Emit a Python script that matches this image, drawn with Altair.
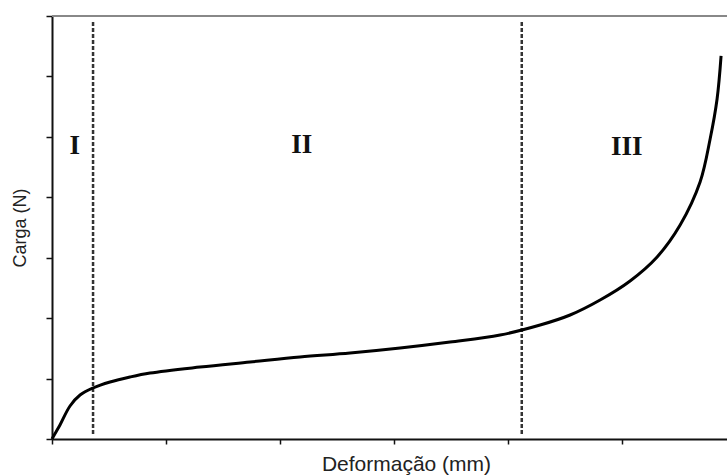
import altair as alt
import pandas as pd

# Curve (Deformação vs Carga) (arbitrary units)
curve_x = [0.0, 0.035, 0.070, 0.158, 0.246, 0.360, 0.509, 0.684, 0.860, 1.298, 1.737,
           2.175, 2.614, 3.053, 3.491, 3.930, 4.281, 4.544, 4.807, 5.070, 5.307,
           5.509, 5.684, 5.772, 5.833, 5.868]
curve_y = [0.0, 0.116, 0.232, 0.546, 0.728, 0.844, 0.943, 1.026, 1.092, 1.191, 1.274,
           1.357, 1.423, 1.506, 1.605, 1.721, 1.886, 2.052, 2.300, 2.615, 3.012,
           3.541, 4.253, 4.965, 5.627, 6.339]

# Region boundaries (dashed lines)
boundary_x = [0.36, 4.12]
boundary_top = 6.9
boundary_bottom = 0.06

# Region labels
region_labels = ["I", "II", "III"]
region_x = [0.2, 2.19, 5.04]
region_y = [4.85, 4.86, 4.83]

x_ticks = [0, 1, 2, 3, 4, 5]
y_ticks = [0, 1, 2, 3, 4, 5, 6, 7]

W, H = 675, 423
x_scale = alt.Scale(domain=[0, 5.92], nice=False, zero=False)
y_scale = alt.Scale(domain=[0, 7], nice=False, zero=False)

curve_df = pd.DataFrame({"x": curve_x, "y": curve_y})
bound_df = pd.DataFrame({"x": boundary_x,
                         "y": [boundary_top] * len(boundary_x),
                         "y2": [boundary_bottom] * len(boundary_x)})
label_df = pd.DataFrame({"label": region_labels, "x": region_x, "y": region_y})

x_axis = alt.Axis(values=x_ticks, labels=False, grid=False, title="Deformação (mm)",
                  titleFont="Liberation Sans", titleFontSize=21, titleFontWeight="normal",
                  titleColor="#222", titleX=354, titleY=31, titleAlign="center",
                  titleBaseline="alphabetic", domainColor="#111", domainWidth=2,
                  tickColor="#111", tickWidth=1.5, tickSize=5)
y_axis = alt.Axis(values=y_ticks, labels=False, grid=False, title="Carga (N)",
                  titleFont="Liberation Sans", titleFontSize=18, titleFontWeight="normal",
                  titleColor="#222", titleX=-32, titleY=H / 2, titleAlign="center",
                  titleBaseline="middle", titleAngle=-90, domainColor="#111", domainWidth=2,
                  tickColor="#111", tickWidth=1.5, tickSize=6)

curve = alt.Chart(curve_df).mark_line(
    color="black", strokeWidth=3, interpolate="catmull-rom"
).encode(
    x=alt.X("x:Q", scale=x_scale, axis=x_axis),
    y=alt.Y("y:Q", scale=y_scale, axis=y_axis),
)

bounds = alt.Chart(bound_df).mark_rule(
    color="#333", strokeWidth=2.5, strokeDash=[4, 2]
).encode(
    x=alt.X("x:Q", scale=x_scale),
    y=alt.Y("y:Q", scale=y_scale),
    y2="y2:Q",
)

labels = alt.Chart(label_df).mark_text(
    font="Liberation Serif", fontWeight="bold", fontSize=27, color="#111",
    align="center", baseline="middle"
).encode(
    x=alt.X("x:Q", scale=x_scale),
    y=alt.Y("y:Q", scale=y_scale),
    text="label:N",
)

top_line = alt.Chart(pd.DataFrame({"a": [0]})).mark_rule(
    color="#888", strokeWidth=2
).encode(x=alt.value(0), x2=alt.value(W), y=alt.value(0))

chart = alt.layer(top_line, bounds, curve, labels).properties(
    width=W, height=H,
    autosize=alt.AutoSizeParams(type="none"),
    padding={"left": 52, "top": 16, "right": 0, "bottom": 37},
).configure_view(stroke=None).configure(background="white")

chart.save("out.html", embed_options={"renderer": "svg", "actions": False})
